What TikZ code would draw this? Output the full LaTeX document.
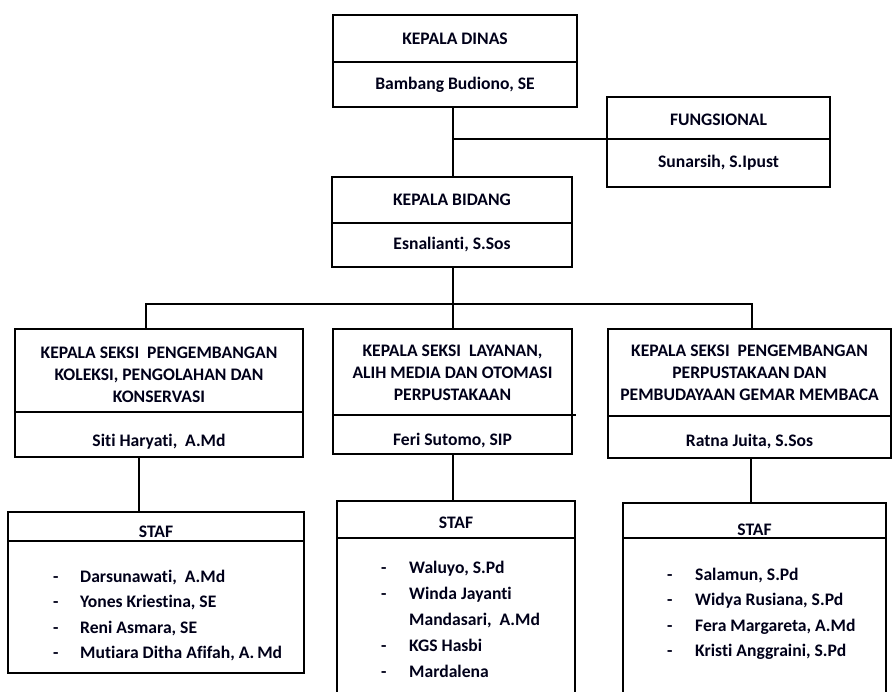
\documentclass[tikz,border=0pt]{standalone}
\usepackage{fontspec}
\setmainfont{Carlito}[Ligatures=NoCommon]
\newcommand{\lowerby}[2]{\raisebox{-#1}[\height][\depth]{#2}}
\begin{document}
\begin{tikzpicture}[x=1pt,y=-1pt,
  cell/.style={draw=black,line width=2.3pt,fill=white,inner sep=0pt,outer sep=0pt,
    font=\bfseries\fontsize{17.6}{22}\selectfont,align=center,text=black!90!blue},
  link/.style={draw=black,line width=2.3pt},
  listtext/.style={inner sep=0pt,anchor=north west,align=left,
    font=\bfseries\fontsize{17.6}{25.5}\selectfont,text=black!90!blue}]
\useasboundingbox (0,0) rectangle (893,691);
\fill[white] (0,0) rectangle (893,691);
\clip (0,0) rectangle (893,691);
% Kepala Dinas
\node[cell,minimum width=244pt,minimum height=47pt] (dinasT) at (455,38.5) {KEPALA DINAS};
\node[cell,minimum width=244pt,minimum height=45pt] (dinasB) at (455,84.5) {Bambang Budiono, SE};
% Fungsional
\node[cell,minimum width=223pt,minimum height=42pt] (fungT) at (718.5,118) {\lowerby{2pt}{FUNGSIONAL}};
\node[cell,minimum width=223pt,minimum height=48pt] (fungB) at (718.5,163) {Sunarsih, S.Ipust};
% Kepala Bidang
\node[cell,minimum width=240pt,minimum height=46pt] (bidT) at (452,200) {KEPALA BIDANG};
\node[cell,minimum width=240pt,minimum height=44pt] (bidB) at (452,245) {Esnalianti, S.Sos};
% Kepala Seksi boxes
\node[cell,minimum width=288pt,minimum height=83pt] (k1T) at (159,370.5) {\lowerby{6pt}{\begin{tabular}{@{}c@{}}KEPALA SEKSI\ \ PENGEMBANGAN\\KOLEKSI, PENGOLAHAN DAN\\KONSERVASI\end{tabular}}};
\node[cell,minimum width=288pt,minimum height=45pt] (k1B) at (159,434.5) {\lowerby{7pt}{Siti Haryati,\ \ A.Md}};
\node[cell,minimum width=239pt,minimum height=86pt] (k2T) at (452.5,372) {\lowerby{2.5pt}{\begin{tabular}{@{}c@{}}KEPALA SEKSI\ \ LAYANAN,\\ALIH MEDIA DAN OTOMASI\\PERPUSTAKAAN\end{tabular}}};
\node[cell,minimum width=239pt,minimum height=39pt] (k2B) at (452.5,434.5) {\lowerby{6pt}{Feri Sutomo, SIP}};
\node[cell,minimum width=283pt,minimum height=87pt] (k3T) at (749.5,372.5) {\lowerby{2pt}{\begin{tabular}{@{}c@{}}KEPALA SEKSI\ \ PENGEMBANGAN\\PERPUSTAKAAN DAN\\PEMBUDAYAAN GEMAR MEMBACA\end{tabular}}};
\node[cell,minimum width=283pt,minimum height=42pt] (k3B) at (749.5,437) {\lowerby{5pt}{Ratna Juita, S.Sos}};
\draw[link] (k2B.north east) -- ++(4,0);
% Staf boxes
\node[cell,minimum width=296pt,minimum height=29pt] (s1T) at (156,526.5) {\lowerby{5pt}{STAF}};
\node[cell,minimum width=296pt,minimum height=132pt] (s1B) at (156,607) {};
\node[cell,minimum width=238pt,minimum height=37pt] (s2T) at (456,519.5) {\lowerby{3pt}{STAF}};
\node[cell,minimum width=238pt,minimum height=170pt] (s2B) at (456,623) {};
\node[cell,minimum width=263pt,minimum height=35pt] (s3T) at (754.5,520.5) {\lowerby{9pt}{STAF}};
\node[cell,minimum width=263pt,minimum height=170pt] (s3B) at (754.5,623) {};
% lists
\node[listtext] (l1) at (53,564) {\begin{tabular}{@{}p{27pt}@{}l@{}}
-&Darsunawati,\ \ A.Md\\
-&Yones Kriestina, SE\\
-&Reni Asmara, SE\\
-&Mutiara Ditha Afifah, A.\,Md\end{tabular}};
\node[listtext,font=\bfseries\fontsize{17.6}{26}\selectfont] (l2) at (381,555) {\begin{tabular}{@{}p{28pt}@{}l@{}}
-&Waluyo, S.Pd\\
-&Winda Jayanti\\
&Mandasari,\ \ A.Md\\
-&KGS Hasbi\\
-&Mardalena\end{tabular}};
\node[listtext] (l3) at (667,562) {\begin{tabular}{@{}p{28pt}@{}l@{}}
-&Salamun,\ S.Pd\\
-&Widya Rusiana,\ S.Pd\\
-&Fera Margareta, A.Md\\
-&Kristi Anggraini,\ S.Pd\end{tabular}};
% connectors
\coordinate (hub) at (453,304);
\coordinate (barL) at (146,304);
\coordinate (barR) at (752,304);
\coordinate (c1) at (139,0);
\coordinate (c3) at (751,0);
\draw[link] (hub |- dinasB.south) -- (hub |- bidT.north);
\draw[link] (hub |- fungB.north west) -- (fungB.north west);
\draw[link] (hub |- bidB.south) -- (hub);
\draw[link] (barL |- k1T.north) -- (barL) -- (barR) -- (barR |- k3T.north);
\draw[link] (hub) -- (hub |- k2T.north);
\draw[link] (c1 |- k1B.south) -- (c1 |- s1T.north);
\draw[link] (hub |- k2B.south) -- (hub |- s2T.north);
\draw[link] (c3 |- k3B.south) -- (c3 |- s3T.north);
\end{tikzpicture}
\end{document}
